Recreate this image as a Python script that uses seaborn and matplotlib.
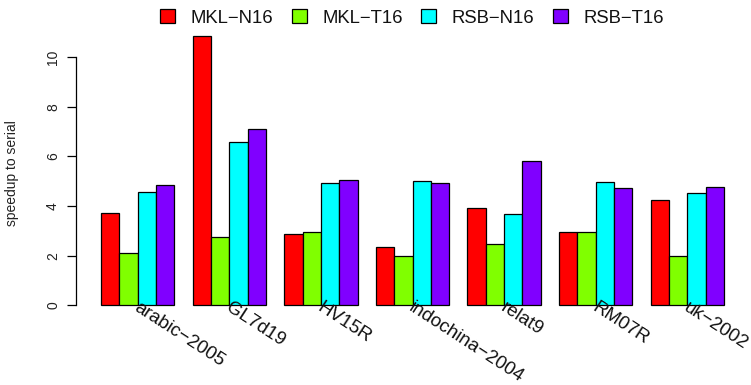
import numpy as np
import pandas as pd
import matplotlib
matplotlib.use("Agg")
import matplotlib.pyplot as plt
import seaborn as sns
from matplotlib.patches import Patch

# Speedup of each sparse kernel variant relative to the serial run
graphs = ["arabic\u22122005", "GL7d19", "HV15R", "indochina\u22122004",
          "relat9", "RM07R", "uk\u22122002"]
methods = ["MKL\u2212N16", "MKL\u2212T16", "RSB\u2212N16", "RSB\u2212T16"]
mkl_n16 = [3.70, 10.87, 2.86, 2.35, 3.91, 2.96, 4.26]
mkl_t16 = [2.12, 2.75, 2.97, 1.98, 2.46, 2.96, 1.98]
rsb_n16 = [4.56, 6.59, 4.92, 5.01, 3.68, 4.97, 4.54]
rsb_t16 = [4.83, 7.12, 5.03, 4.91, 5.81, 4.72, 4.75]
colors = ["#FF0000", "#80FF00", "#00FFFF", "#8000FF"]

df = pd.DataFrame({
    "graph": graphs * 4,
    "method": np.repeat(methods, len(graphs)),
    "speedup": mkl_n16 + mkl_t16 + rsb_n16 + rsb_t16,
})

sns.set_style("white")
plt.rcParams["font.family"] = ["Liberation Sans", "DejaVu Sans"]

fig = plt.figure(figsize=(7.51, 3.85), dpi=100)
W, H = 751, 385
ax = fig.add_axes([76 / W, 1 - 316 / H, (749 - 76) / W, 291 / H])

sns.barplot(data=df, x="graph", y="speedup", hue="method",
            order=graphs, hue_order=methods, palette=colors,
            saturation=1, width=0.8, edgecolor="black", linewidth=0.9,
            legend=False, ax=ax)

ax.set_xlim(-0.672, 6.672)
ax.set_ylim(-0.435, 11.3)

for s in ["top", "right", "bottom"]:
    ax.spines[s].set_visible(False)
ax.spines["left"].set_bounds(0, 10)
ax.spines["left"].set_linewidth(0.9)
ax.spines["left"].set_color("black")

ax.set_yticks([0, 2, 4, 6, 8, 10])
ax.set_yticklabels(["0", "2", "4", "6", "8", "10"], rotation=90, va="center",
                   fontsize=10)
ax.tick_params(axis="y", left=True, length=6.5, width=0.9, pad=5,
               colors="black", labelcolor="#222222")
ax.set_xticks([])
ax.set_xlabel("")
ax.set_ylabel("")
fig.text(12 / W, 1 - 173 / H, "speedup to serial", rotation=90,
         ha="center", va="center", fontsize=10, color="#222222")

# slanted group names under the bars
for i, g in enumerate(graphs):
    ax.text(i - 0.02, -0.05, g, rotation=-33, rotation_mode="anchor",
            ha="left", va="center", fontsize=13.5, color="#111111",
            clip_on=False)

handles = [Patch(facecolor=c, edgecolor="black", linewidth=0.9) for c in colors]
fig.legend(handles, methods, loc="center", bbox_to_anchor=(412 / W, 1 - 18 / H),
           ncol=4, frameon=False, fontsize=13.3, handlelength=0.8,
           handleheight=0.8, handletextpad=0.85, columnspacing=1.0,
           borderaxespad=0, labelcolor="#111111")

fig.savefig("out.png", dpi=100)
